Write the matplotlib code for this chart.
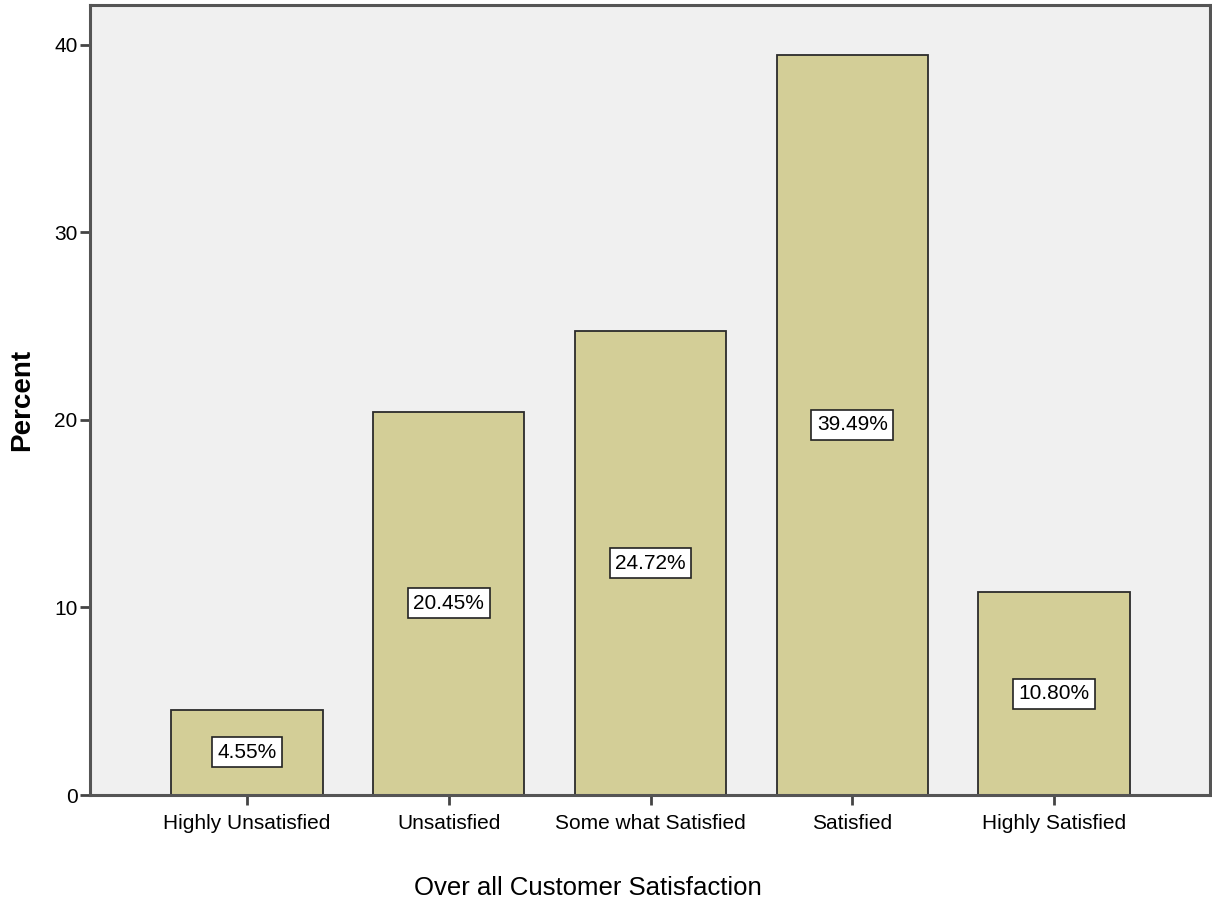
import matplotlib
matplotlib.use("Agg")
import matplotlib.pyplot as plt
import numpy as np

# categories and percentages
categories = ["Highly Unsatisfied", "Unsatisfied", "Some what Satisfied", "Satisfied", "Highly Satisfied"]
percents = [4.55, 20.45, 24.72, 39.49, 10.80]
yticks = [0, 10, 20, 30, 40]

plt.rcParams['font.family'] = ['Liberation Sans', 'DejaVu Sans']

fig = plt.figure(figsize=(12.12, 9.05), dpi=100)
ax = fig.add_axes([90 / 1212, 1 - 795 / 905, 1120 / 1212, 790 / 905])
ax.set_facecolor("#F0F0F0")

x = np.arange(len(categories))
ax.bar(x, percents, width=0.75, color="#D3CE97", edgecolor="#2b2b2b", linewidth=1.3, zorder=2)

# value labels in white boxes at half the bar height
for xi, p in zip(x, percents):
    ax.text(xi, p / 2, f"{p:.2f}%", ha="center", va="center", fontsize=15, color="black",
            bbox=dict(boxstyle="square,pad=0.27", facecolor="white", edgecolor="#222222", linewidth=1.2),
            zorder=3)

ax.set_xlim(-0.777, 4.772)
ax.set_ylim(0, 42.13)
ax.set_xticks(x)
ax.set_xticklabels(categories, fontsize=15)
ax.set_yticks(yticks)
ax.tick_params(axis="y", labelsize=15, length=7, width=2, color="#444444", pad=2)
ax.tick_params(axis="x", length=7, width=2, color="#444444", pad=7)

for side in ["left", "bottom", "top", "right"]:
    ax.spines[side].set_color("#555555")
    ax.spines[side].set_linewidth(2.2)

fig.text(22 / 1212, 1 - 400 / 905, "Percent", rotation=90, fontsize=20, fontweight="bold",
         ha="center", va="center")
fig.text(588 / 1212, 1 - 888 / 905, "Over all Customer Satisfaction", fontsize=18.5,
         ha="center", va="center")

fig.savefig("out.png", dpi=100, facecolor="white")
